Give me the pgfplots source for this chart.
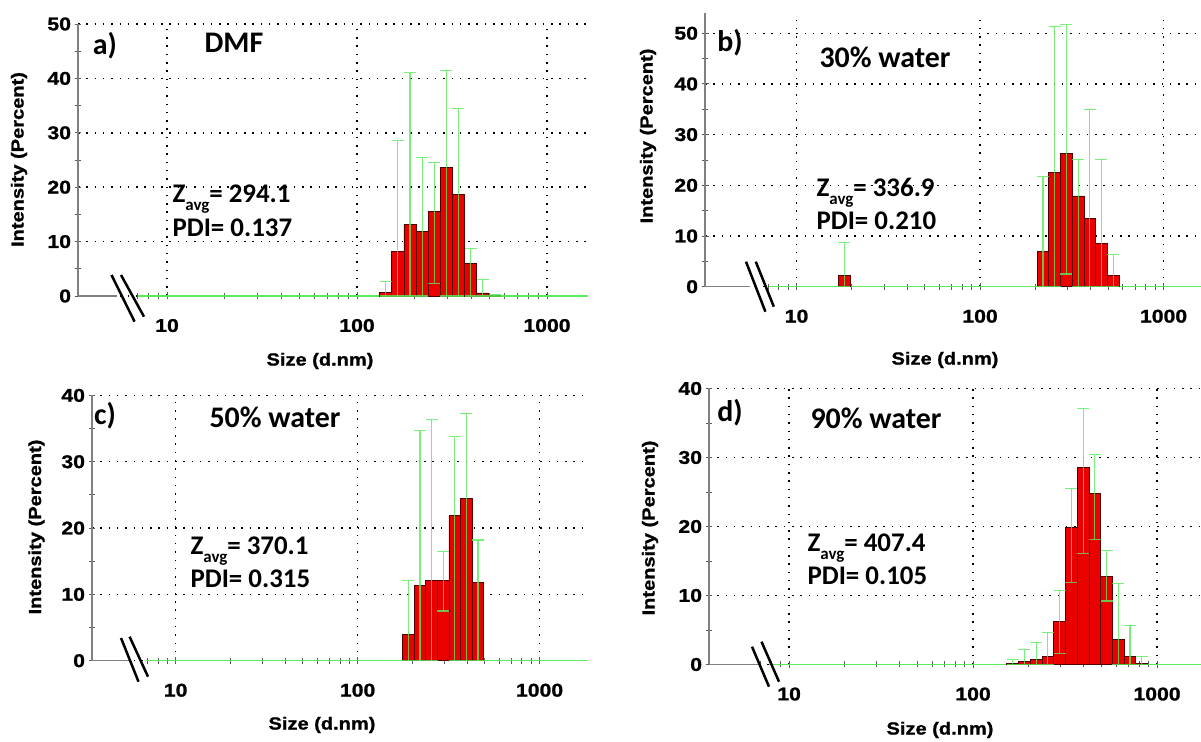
\documentclass[border=0pt]{standalone}
\usepackage{fontspec}
\usepackage{pgfplots}
\pgfplotsset{compat=1.18}
\setmainfont{Liberation Sans}
\newfontfamily\calfont{Carlito}
\newfontfamily\blkfont{Liberation Sans}[FakeStretch=1.15, BoldFeatures={FakeBold=1.2}]
\definecolor{barred}{RGB}{235,0,0}
\definecolor{baredge}{RGB}{80,0,0}
\definecolor{errgreen}{RGB}{90,235,90}
\definecolor{axgray}{RGB}{128,128,128}
\newcommand{\tlfont}{\blkfont\bfseries\fontsize{18.5}{18.5}\selectfont}

\tikzset{
  brk/.style={black, line width=2.5bp},
  panel/.style={font=\calfont\bfseries\fontsize{30}{30}\selectfont},
  zav/.style={font=\calfont\bfseries\fontsize{27}{33}\selectfont, anchor=base west},
  axl/.style={font=\blkfont\bfseries\fontsize{17.5}{17.5}\selectfont},
}
\newcommand{\sub}[1]{\raisebox{-0.28em}{\fontsize{17}{17}\selectfont #1}}

\begin{document}
\begin{tikzpicture}[x=1bp,y=1bp]
\path[use as bounding box] (0,0) rectangle (1201,742);

% ---------------- a) DMF
\begin{axis}[xmode=log, scale only axis, at={(78bp,446bp)}, anchor=south west, width=510bp, height=272bp,
  xmin=3.40, xmax=1644, ymin=0, ymax=50,
  axis x line*=bottom, axis y line*=left,
  x axis line style={draw=none}, y axis line style={axgray, line width=1.3bp, -},
  tick align=center, major tick length=7bp, minor tick length=6bp,
  tick style={axgray!70!black, line width=0.9bp},
  xtick={10,100,1000}, xticklabels={10,100,1000},
  minor xtick={7,8,9,20,30,40,50,60,70,80,90,200,300,400,500,600,700,800,900},
  ytick={0,10,20,30,40,50}, yticklabels={0,10,20,30,40,50}, minor ytick={5,15,25,35,45},
  grid=major, major grid style={black, line width=1.5bp, dash pattern=on 1.5bp off 6.8bp},
  tick label style={font=\tlfont}, xticklabel style={yshift=-16bp}, clip=false]
\addplot[errgreen, line width=1.6bp] coordinates {(7.03,0) (1644,0)};
\addplot[ybar, bar shift=0pt, bar width=12.1bp, fill=barred, draw=baredge, line width=0.8bp] table {
x y
141.8 0.6
164.2 8.2
190.1 13.1
220.2 11.8
255.0 15.6
295.3 23.6
342.0 18.6
396.1 6.0
458.7 0.55
531.2 0.15
};
\addplot[draw=none, mark=none, error bars/.cd, y dir=both, y explicit,
  error bar style={draw=errgreen, line width=1.1bp, opacity=0.8},
  error mark options={draw=errgreen, rotate=90, mark size=6bp, line width=1.1bp, opacity=0.8}]
  table[x=x, y=y, y error plus=ep, y error minus=em] {
x y ep em
141.8 0.6 2.0 0.6
164.2 8.2 20.3 8.2
190.1 13.1 27.9 13.1
220.2 11.8 13.7 11.8
255.0 15.6 8.9 13.3
295.3 23.6 17.9 23.6
342.0 18.6 15.9 18.6
396.1 6.0 2.7 6.0
458.7 0.55 2.45 0.55
531.2 0.15 0.2 0.15
};
\draw[axgray, line width=1.3bp] (axis cs:3.40,0) -- (axis cs:5.46,0);
\end{axis}

% ---------------- b) 30% water
\begin{axis}[xmode=log, scale only axis, at={(705bp,455.3bp)}, anchor=south west, width=496bp, height=273.7bp,
  xmin=3.17, xmax=1600, ymin=0, ymax=54,
  axis x line*=bottom, axis y line*=left,
  x axis line style={draw=none}, y axis line style={axgray, line width=1.3bp, -},
  tick align=center, major tick length=7bp, minor tick length=6bp,
  tick style={axgray!70!black, line width=0.9bp},
  xtick={10,100,1000}, xticklabels={10,100,1000},
  minor xtick={7,8,9,20,30,40,50,60,70,80,90,200,300,400,500,600,700,800,900},
  ytick={0,10,20,30,40,50}, yticklabels={0,10,20,30,40,50}, minor ytick={5,15,25,35,45},
  grid=major, major grid style={black, line width=1.5bp, dash pattern=on 1.5bp off 6.8bp},
  tick label style={font=\tlfont}, xticklabel style={yshift=-16bp}, clip=false]
\addplot[errgreen, line width=1.6bp] coordinates {(7.08,0) (1600,0)};
\addplot[ybar, bar shift=0pt, bar width=11.7bp, fill=barred, draw=baredge, line width=0.8bp] table {
x y
18.17 2.2
220.2 6.9
255.0 22.6
295.3 26.2
342.0 17.9
396.1 13.4
458.7 8.6
531.2 2.2
};
\addplot[draw=none, mark=none, error bars/.cd, y dir=both, y explicit,
  error bar style={draw=errgreen, line width=1.1bp, opacity=0.8},
  error mark options={draw=errgreen, rotate=90, mark size=6bp, line width=1.1bp, opacity=0.8}]
  table[x=x, y=y, y error plus=ep, y error minus=em] {
x y ep em
18.17 2.2 6.5 2.2
220.2 6.9 14.8 6.9
255.0 22.6 28.8 22.6
295.3 26.2 25.5 23.7
342.0 17.9 7.2 17.9
396.1 13.4 21.5 13.4
458.7 8.6 16.5 8.6
531.2 2.2 4.2 2.2
};
\draw[axgray, line width=1.3bp] (axis cs:3.17,0) -- (axis cs:5.58,0);
\end{axis}

% ---------------- c) 50% water
\begin{axis}[xmode=log, scale only axis, at={(92bp,81.3bp)}, anchor=south west, width=496bp, height=265.3bp,
  xmin=3.47, xmax=1846, ymin=0, ymax=40,
  axis x line*=bottom, axis y line*=left,
  x axis line style={draw=none}, y axis line style={axgray, line width=1.3bp, -},
  tick align=center, major tick length=7bp, minor tick length=6bp,
  tick style={axgray!70!black, line width=0.9bp},
  xtick={10,100,1000}, xticklabels={10,100,1000},
  minor xtick={7,8,9,20,30,40,50,60,70,80,90,200,300,400,500,600,700,800,900},
  ytick={0,10,20,30,40}, yticklabels={0,10,20,30,40}, minor ytick={5,15,25,35},
  grid=major, major grid style={black, line width=1.5bp, dash pattern=on 1.5bp off 6.8bp},
  tick label style={font=\tlfont}, xticklabel style={yshift=-16bp}, clip=false]
\addplot[errgreen, line width=1.6bp] coordinates {(6.88,0) (1846,0)};
\addplot[ybar, bar shift=0pt, bar width=11.6bp, fill=barred, draw=baredge, line width=0.8bp] table {
x y
190.1 4.0
220.2 11.4
255.0 12.1
295.3 12.1
342.0 21.9
396.1 24.5
458.7 11.8
};
\addplot[draw=none, mark=none, error bars/.cd, y dir=both, y explicit,
  error bar style={draw=errgreen, line width=1.1bp, opacity=0.8},
  error mark options={draw=errgreen, rotate=90, mark size=6bp, line width=1.1bp, opacity=0.8}]
  table[x=x, y=y, y error plus=ep, y error minus=em] {
x y ep em
190.1 4.0 8.1 4.0
220.2 11.4 23.3 11.4
255.0 12.1 24.3 12.1
295.3 12.1 4.4 4.6
342.0 21.9 11.9 21.9
396.1 24.5 12.8 24.5
458.7 11.8 6.4 11.8
};
\draw[axgray, line width=1.3bp] (axis cs:3.47,0) -- (axis cs:5.55,0);
\end{axis}

% ---------------- d) 90% water
\begin{axis}[xmode=log, scale only axis, at={(709bp,77.5bp)}, anchor=south west, width=492bp, height=276bp,
  xmin=3.67, xmax=1734, ymin=0, ymax=40,
  axis x line*=bottom, axis y line*=left,
  x axis line style={draw=none}, y axis line style={axgray, line width=1.3bp, -},
  tick align=center, major tick length=7bp, minor tick length=6bp,
  tick style={axgray!70!black, line width=0.9bp},
  xtick={10,100,1000}, xticklabels={10,100,1000},
  minor xtick={7,8,9,20,30,40,50,60,70,80,90,200,300,400,500,600,700,800,900},
  ytick={0,10,20,30,40}, yticklabels={0,10,20,30,40}, minor ytick={5,15,25,35},
  grid=major, major grid style={black, line width=1.5bp, dash pattern=on 1.5bp off 6.8bp},
  tick label style={font=\tlfont}, xticklabel style={yshift=-16bp}, clip=false]
\addplot[errgreen, line width=1.6bp] coordinates {(7.78,0) (1734,0)};
\addplot[ybar, bar shift=0pt, bar width=11.7bp, fill=barred, draw=baredge, line width=0.8bp] table {
x y
164.2 0.2
190.1 0.5
220.2 0.7
255.0 1.2
295.3 6.2
342.0 19.8
396.1 28.6
458.7 24.8
531.2 12.7
615.1 3.6
712.4 1.2
825.0 0.2
};
\addplot[draw=none, mark=none, error bars/.cd, y dir=both, y explicit,
  error bar style={draw=errgreen, line width=1.1bp, opacity=0.8},
  error mark options={draw=errgreen, rotate=90, mark size=6bp, line width=1.1bp, opacity=0.8}]
  table[x=x, y=y, y error plus=ep, y error minus=em] {
x y ep em
164.2 0.2 0.5 0.2
190.1 0.5 1.7 0.5
220.2 0.7 2.5 0.7
255.0 1.2 3.5 1.2
295.3 6.2 4.5 4.6
342.0 19.8 5.7 7.9
396.1 28.6 8.5 12.5
458.7 24.8 5.6 6.7
531.2 12.7 3.8 3.5
615.1 3.6 8.2 3.6
712.4 1.2 4.5 1.2
825.0 0.2 1.0 0.2
};
\draw[axgray, line width=1.3bp] (axis cs:3.67,0) -- (axis cs:6.78,0);
\end{axis}

% axis breaks
\draw[brk] (111.5,467) -- (134.6,420.3); \draw[brk] (121,467) -- (144,425.3);
\draw[brk] (746,480.3) -- (765.4,430.3); \draw[brk] (755.8,480.3) -- (773.8,435.3);
\draw[brk] (121,104) -- (138.5,60.3); \draw[brk] (129.6,105.3) -- (148,65.3);
\draw[brk] (752,95.3) -- (769,55.3); \draw[brk] (761.5,100.3) -- (779,60.3);

% panel labels
\node[panel] at (105,696) {a)};
\node[panel] at (234,699) {DMF};
\node[panel] at (730,699) {b)};
\node[panel] at (885,685) {30\% water};
\node[panel] at (105,326) {c)};
\node[panel] at (275,325) {50\% water};
\node[panel] at (730,329) {d)};
\node[panel] at (876,324) {90\% water};

% Z-average / PDI
\node[zav] at (169,539) {Z\sub{avg}= 294.1};
\node[zav] at (169,505) {PDI= 0.137};
\node[zav] at (813,545) {Z\sub{avg}= 336.9};
\node[zav] at (813,512) {PDI= 0.210};
\node[zav] at (187,187) {Z\sub{avg}= 370.1};
\node[zav] at (187,154) {PDI= 0.315};
\node[zav] at (804,190) {Z\sub{avg}= 407.4};
\node[zav] at (804,157) {PDI= 0.105};

% axis labels
\node[axl, rotate=90] at (19,582.5) {Intensity (Percent)};
\node[axl, rotate=90] at (648,606) {Intensity (Percent)};
\node[axl, rotate=90] at (36.5,215) {Intensity (Percent)};
\node[axl, rotate=90] at (650,214) {Intensity (Percent)};
\node[axl] at (320,381) {Size (d.nm)};
\node[axl] at (945,382) {Size (d.nm)};
\node[axl] at (322,17) {Size (d.nm)};
\node[axl] at (940,12) {Size (d.nm)};
\end{tikzpicture}
\end{document}
